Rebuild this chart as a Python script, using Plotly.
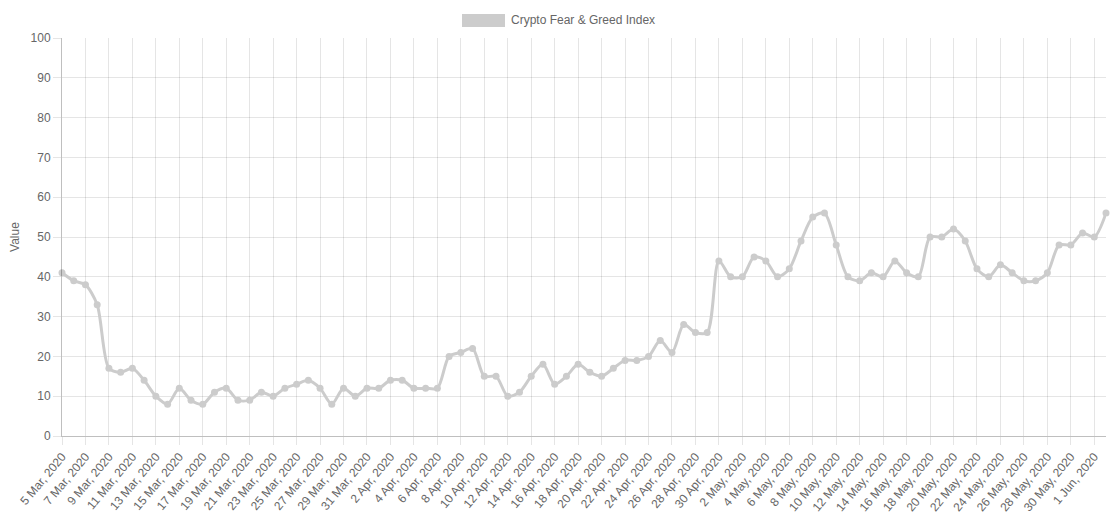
import pandas as pd
import plotly.graph_objects as go

dates = pd.date_range("2020-03-05", "2020-06-02", freq="D")
labels = [f"{d.day} {d.strftime('%b')}, {d.year}" for d in dates]

values = [41, 39, 38, 33, 17, 16, 17, 14, 10, 8,
          12, 9, 8, 11, 12, 9, 9, 11, 10, 12,
          13, 14, 12, 8, 12, 10, 12, 12, 14, 14,
          12, 12, 12, 20, 21, 22, 15, 15, 10, 11,
          15, 18, 13, 15, 18, 16, 15, 17, 19, 19,
          20, 24, 21, 28, 26, 26, 44, 40, 40, 45,
          44, 40, 42, 49, 55, 56, 48, 40, 39, 41,
          40, 44, 41, 40, 50, 50, 52, 49, 42, 40,
          43, 41, 39, 39, 41, 48, 48, 51, 50, 56]

series_name = "Crypto Fear & Greed Index"
tick_labels = labels[::2]
y_ticks = list(range(0, 101, 10))

LINE = "rgb(204,204,204)"
GRID = "rgba(0,0,0,0.1)"
AXIS = "rgba(0,0,0,0.25)"
FONT = "Liberation Sans, Arial, Helvetica, sans-serif"

fig = go.Figure()
fig.add_trace(go.Scatter(
    x=labels, y=values, name=series_name, mode="lines+markers",
    line=dict(color=LINE, width=3, shape="spline", smoothing=0.8),
    marker=dict(color=LINE, size=7),
    cliponaxis=False,
    showlegend=False,
))

fig.update_layout(
    width=1118, height=525,
    margin=dict(l=62, r=12, t=38, b=89, autoexpand=False),
    paper_bgcolor="white", plot_bgcolor="white",
    font=dict(family=FONT, size=12, color="#666"),
    xaxis=dict(
        type="category", range=[0, len(labels) - 1], automargin=False,
        tickmode="array", tickvals=tick_labels, ticktext=tick_labels,
        tickangle=-50, showgrid=True, gridcolor=GRID, gridwidth=1,
        ticks="outside", ticklen=8, tickcolor=GRID,
        showline=True, linecolor=AXIS, linewidth=1,
        zeroline=False, tickfont=dict(size=12, color="#666"),
    ),
    yaxis=dict(
        range=[0, 100], tickvals=y_ticks, automargin=False,
        showgrid=True, gridcolor=GRID, gridwidth=1,
        ticks="outside", ticklen=8, tickcolor=GRID,
        showline=True, linecolor=AXIS, linewidth=1,
        zeroline=False, tickfont=dict(size=12, color="#666"),
        title=dict(text="Value", font=dict(size=12, color="#666"), standoff=8),
    ),
    shapes=[dict(
        type="rect", xref="paper", yref="paper",
        x0=(462 - 62) / 1044, x1=(505 - 62) / 1044,
        y0=(436 - 27) / 398, y1=(436 - 14) / 398,
        fillcolor=LINE, line=dict(width=0),
    )],
    annotations=[dict(
        text=series_name, xref="paper", yref="paper",
        x=(509 - 62) / 1044, y=(436 - 20.5) / 398,
        xanchor="left", yanchor="middle", showarrow=False,
        font=dict(size=12, color="#666"),
    )],
)

fig.write_html("out.html", config={"displayModeBar": False},
               post_script="document.body.style.margin='0';")
